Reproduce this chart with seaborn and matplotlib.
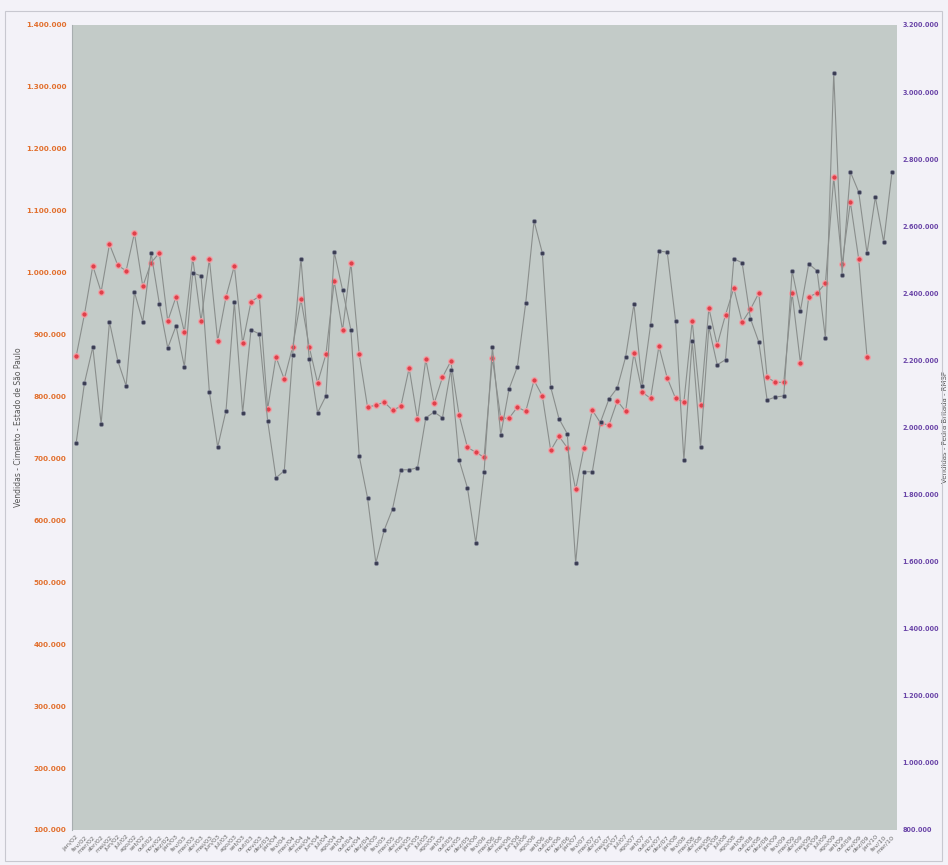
import matplotlib
matplotlib.use("Agg")
import matplotlib.pyplot as plt
import seaborn as sns
import numpy as np
import pandas as pd
from matplotlib.ticker import FuncFormatter, FixedLocator
from matplotlib.patches import Rectangle

# ---------------- data ----------------
months_pt = ["jan", "fev", "mar", "abr", "mai", "jun", "jul", "ago", "set", "out", "nov", "dez"]
start_year = 2002
n_points = 99
date_labels = [f"{months_pt[k % 12]}/{(start_year + k // 12) % 100:02d}" for k in range(n_points)]

# Cimento - Estado de São Paulo (left axis)
cimento = [865, 933, 1011, 969, 1046, 1012, 1003, 1064, 978, 1016,
           1032, 922, 961, 904, 1024, 922, 1022, 890, 961, 1011,
           886, 953, 962, 780, 864, 828, 880, 957, 880, 822,
           868, 986, 907, 1016, 868, 783, 786, 791, 778, 784,
           846, 763, 860, 789, 831, 857, 770, 718, 710, 702,
           862, 765, 765, 783, 776, 826, 801, 713, 736, 717,
           650, 717, 778, 757, 754, 793, 776, 870, 807, 797,
           881, 830, 797, 791, 922, 786, 943, 883, 932, 975,
           920, 941, 967, 831, 823, 823, 967, 854, 961, 967,
           983, 1154, 1014, 1114, 1022, 864]
cimento = [v * 1000 for v in cimento]

# Pedra Britada - RMSP (right axis)
pedra = [1954, 2133, 2240, 2011, 2315, 2199, 2124, 2404, 2315, 2520,
         2368, 2237, 2303, 2181, 2461, 2452, 2106, 1942, 2050, 2374,
         2044, 2291, 2279, 2020, 1850, 1871, 2216, 2503, 2204, 2044,
         2094, 2523, 2410, 2291, 1915, 1790, 1596, 1694, 1757, 1874,
         1874, 1880, 2029, 2046, 2029, 2172, 1903, 1820, 1656, 1868,
         2240, 1978, 2115, 2181, 2371, 2616, 2520, 2121, 2026, 1981,
         1596, 1868, 1868, 2017, 2085, 2118, 2210, 2368, 2124, 2306,
         2526, 2523, 2318, 1903, 2258, 1942, 2300, 2187, 2202, 2503,
         2491, 2324, 2255, 2082, 2091, 2094, 2467, 2348, 2488, 2467,
         2267, 3057, 2455, 2762, 2702, 2520, 2687, 2553, 2762]
pedra = [v * 1000 for v in pedra]

left_ticks = list(range(100000, 1400001, 100000))
right_ticks = list(range(800000, 3200001, 200000))

df_c = pd.DataFrame({"idx": np.arange(len(cimento)), "valor": cimento})
df_p = pd.DataFrame({"idx": np.arange(len(pedra)), "valor": pedra})

# ---------------- style ----------------
sns.set_theme(style="white")
plt.rcParams["font.family"] = ["DejaVu Sans"]

W, H = 948, 865
fig = plt.figure(figsize=(W / 100, H / 100), dpi=100)
fig.patch.set_facecolor("#f3f2f8")

L, R, T, B = 72, 897, 25, 830
ax = fig.add_axes([L / W, 1 - B / H, (R - L) / W, (B - T) / H])
ax.set_facecolor("#c3cbc8")
ax2 = ax.twinx()

line_kw = dict(color="#8a8e8c", linewidth=0.8)
sns.lineplot(data=df_c, x="idx", y="valor", ax=ax, **line_kw)
sns.scatterplot(data=df_c, x="idx", y="valor", ax=ax, color="#e0404a",
                s=16, edgecolor="#f0a0a6", linewidth=0.9, zorder=3)
sns.lineplot(data=df_p, x="idx", y="valor", ax=ax2, **line_kw)
sns.scatterplot(data=df_p, x="idx", y="valor", ax=ax2, color="#3a3d52",
                s=10, edgecolor="#8c8fa0", linewidth=0.5, zorder=3)

ax.set_xlim(-0.5, 98.6)
ax.set_ylim(100000, 1400000)
ax2.set_ylim(800000, 3200000)

fmt = FuncFormatter(lambda v, p: f"{int(v):,}".replace(",", "."))
ax.yaxis.set_major_locator(FixedLocator(left_ticks))
ax.yaxis.set_major_formatter(fmt)
ax2.yaxis.set_major_locator(FixedLocator(right_ticks))
ax2.yaxis.set_major_formatter(fmt)

ax.set_xticks(np.arange(n_points))
ax.set_xticklabels(date_labels, rotation=45, ha="right", rotation_mode="anchor",
                   fontsize=4.6, color="#6a6a6a")

ax.tick_params(axis="y", length=0, labelsize=5.2, labelcolor="#e2702e", pad=4)
ax2.tick_params(axis="y", length=0, labelsize=4.7, labelcolor="#6a45a8", pad=4)
ax.tick_params(axis="x", length=0, pad=3)
for lab in ax.get_yticklabels() + ax2.get_yticklabels():
    lab.set_fontweight("bold")

ax.set_xlabel("")
ax.set_ylabel("Vendidas - Cimento - Estado de São Paulo", fontsize=5.5, color="#555555")
ax.yaxis.set_label_coords(-0.059, 0.5)
ax2.set_ylabel("Vendidas - Pedra Britada - RMSP", fontsize=5.0, color="#555555")
ax2.yaxis.set_label_coords(1.055, 0.5)

for a in (ax, ax2):
    for s in a.spines.values():
        s.set_visible(False)
ax.spines["left"].set_visible(True)
ax.spines["left"].set_color("#a8aeb0")
ax.spines["left"].set_linewidth(0.8)

# outer frame of the page
fig.patches.append(Rectangle((5 / W, 4 / H), 937 / W, (H - 15) / H,
                             transform=fig.transFigure, fill=False,
                             edgecolor="#c8c8d0", linewidth=0.8))

fig.savefig("out.png", dpi=100, facecolor=fig.get_facecolor())
